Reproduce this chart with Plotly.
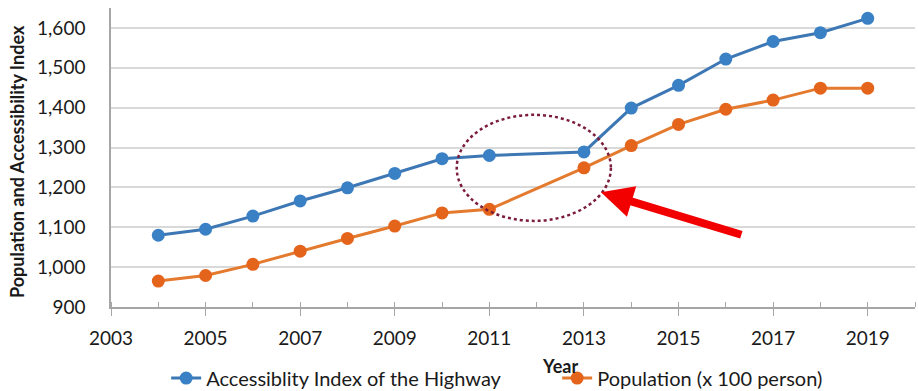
import plotly.graph_objects as go

# Survey years (no record for 2012)
years = [2004, 2005, 2006, 2007, 2008, 2009, 2010, 2011,
         2013, 2014, 2015, 2016, 2017, 2018, 2019]

accessibility_index = [1080, 1095, 1128, 1166, 1199, 1235, 1272, 1280,
                       1289, 1399, 1456, 1522, 1566, 1588, 1624]

population_x100 = [965, 979, 1007, 1040, 1072, 1103, 1136, 1145,
                   1249, 1305, 1358, 1396, 1419, 1449, 1449]

x_ticks = [2003, 2005, 2007, 2009, 2011, 2013, 2015, 2017, 2019]
y_ticks = [900, 1000, 1100, 1200, 1300, 1400, 1500, 1600]

FONT = "Lato"
TEXT = "#1a1a1a"

fig = go.Figure()

fig.add_trace(go.Scatter(
    x=years, y=accessibility_index, mode="lines+markers",
    name="Accessiblity Index of the Highway",
    line=dict(color="#3d78b5", width=3),
    marker=dict(color="#3a80c4", size=13),
))
fig.add_trace(go.Scatter(
    x=years, y=population_x100, mode="lines+markers",
    name="Population (x 100 person)",
    line=dict(color="#e47a2e", width=3),
    marker=dict(color="#e5641c", size=13),
))

# Highlight the 2011-2013 stretch
fig.add_shape(
    type="circle", xref="x", yref="y",
    x0=2010.31, x1=2013.57, y0=1116, y1=1382,
    line=dict(color="#7b1c3a", width=2.5, dash="dot"),
)

# Pointer arrow toward the highlighted stretch
fig.add_annotation(
    x=2013.36, y=1188, ax=2016.36, ay=1080,
    xref="x", yref="y", axref="x", ayref="y",
    showarrow=True, arrowhead=2, arrowsize=0.8, arrowwidth=8,
    arrowcolor="#f20000", text="",
)

# Axis titles
fig.add_annotation(
    text="<b>Year</b>", xref="x", yref="paper",
    x=2012.5, y=-0.197, yanchor="middle", xanchor="center",
    showarrow=False,
    font=dict(family=FONT, size=18, color=TEXT),
)
fig.add_annotation(
    text="<b>Population and Accessibility Index</b>",
    xref="paper", yref="paper", x=-0.117, y=0.488,
    xanchor="center", yanchor="middle",
    textangle=-90, showarrow=False,
    font=dict(family=FONT, size=18, color=TEXT),
)

fig.update_xaxes(
    range=[2003, 2020], tickvals=x_ticks,
    ticks="outside", ticklen=7, tickcolor="#a6a6a6", tickwidth=1.3,
    minor=dict(dtick=1, tick0=2003, ticks="inside", ticklen=5,
               tickcolor="#a6a6a6", tickwidth=1.3),
    showline=True, linecolor="#a6a6a6", linewidth=1.5,
    showgrid=False, zeroline=False,
    tickfont=dict(family=FONT, size=19, color=TEXT),
    ticklabelstandoff=6, automargin=False,
)
fig.update_yaxes(
    range=[900, 1650], tickvals=y_ticks, tickformat=",d",
    showline=True, linecolor="#a6a6a6", linewidth=1.5,
    showgrid=True, gridcolor="#d9d9d9", gridwidth=1.5,
    zeroline=False, ticks="",
    tickfont=dict(family=FONT, size=19, color=TEXT),
    ticklabelstandoff=20, automargin=False,
)

fig.update_layout(
    width=918, height=391,
    margin=dict(l=111, r=3, t=8, b=84, autoexpand=False),
    paper_bgcolor="white", plot_bgcolor="white",
    showlegend=True,
    legend=dict(
        orientation="h", xref="container", yref="container",
        x=0.181, y=0.033, xanchor="left", yanchor="middle",
        font=dict(family=FONT, size=20, color=TEXT),
        entrywidth=346, entrywidthmode="pixels",
        bgcolor="rgba(0,0,0,0)",
    ),
)

fig.write_html("out.html")
